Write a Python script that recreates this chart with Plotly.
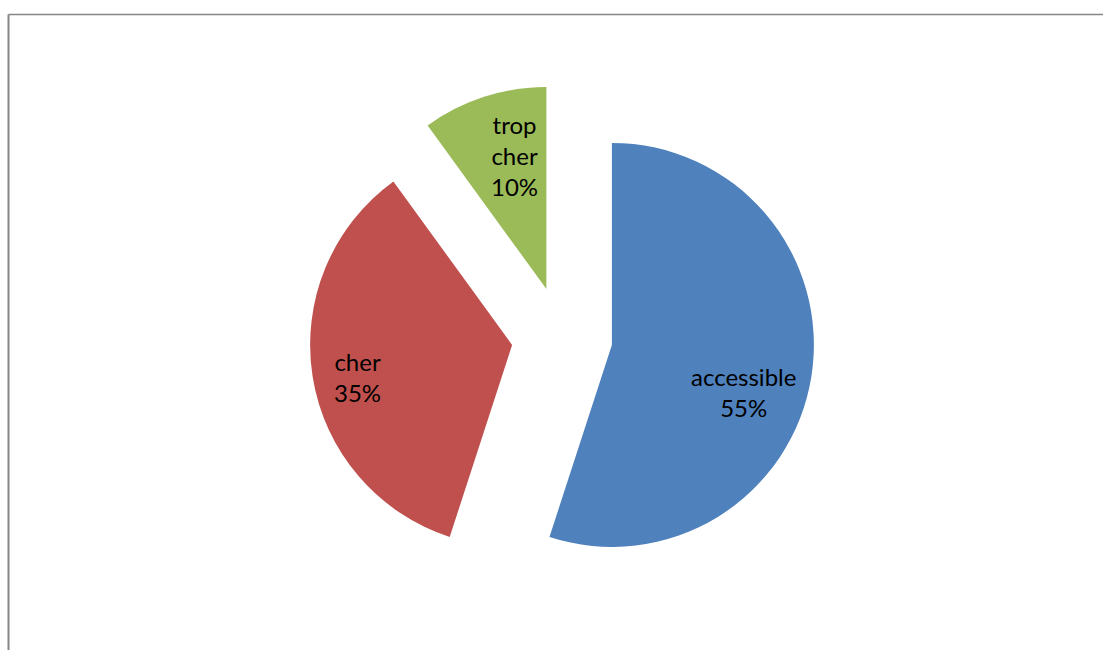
import math
import plotly.graph_objects as go

# ---- data ----
labels = ["accessible", "cher", "trop cher"]
values = [55, 35, 10]
colors = ["#4F81BD", "#C0504D", "#9BBB59"]

# ---- layout constants ----
W, H = 1103, 650
PULL = 0.25
CX, CY = 562, 337          # pie centre in pixels
R = 202                    # pie radius in pixels
BOX = 2 * R * (1 + PULL)   # domain box size that gives radius R

dom_x = [(CX - BOX / 2) / W, (CX + BOX / 2) / W]
dom_y = [1 - (CY + BOX / 2) / H, 1 - (CY - BOX / 2) / H]

fig = go.Figure(go.Pie(
    labels=labels,
    values=values,
    sort=False,
    direction="clockwise",
    rotation=0,
    pull=[PULL] * len(values),
    marker=dict(colors=colors, line=dict(width=0)),
    textinfo="none",
    hoverinfo="label+percent",
    domain=dict(x=dom_x, y=dom_y),
    showlegend=False,
))

# labels placed inside each slice, derived from the slice angles
label_frac = [0.69, 0.78, 0.68]
label_shift = [10.7, -2.7, 4.6]
total = sum(values)
start = 0.0
annotations = []
for i, v in enumerate(values):
    span = 360.0 * v / total
    mid = start + span / 2
    # apex of pulled slice
    ax = CX + PULL * R * math.sin(math.radians(mid))
    ay = CY - PULL * R * math.cos(math.radians(mid))
    ang = mid + label_shift[i]
    px = ax + label_frac[i] * R * math.sin(math.radians(ang))
    py = ay - label_frac[i] * R * math.cos(math.radians(ang))
    pct = round(100 * v / total)
    txt = labels[i].replace(" ", "<br>") + "<br>" + f"{pct}%"
    annotations.append(dict(
        x=px / W, y=1 - py / H, xref="paper", yref="paper",
        text=txt, showarrow=False, xanchor="center", yanchor="middle",
        font=dict(family="Lato, Carlito, Calibri, sans-serif", size=24, color="#000000"),
    ))
    start += span

border = "#868686"
shapes = [
    dict(type="line", xref="paper", yref="paper",
         x0=8.5 / W, y0=1 - 14.5 / H, x1=1, y1=1 - 14.5 / H,
         line=dict(color=border, width=1.5)),
    dict(type="line", xref="paper", yref="paper",
         x0=8.5 / W, y0=1 - 14.5 / H, x1=8.5 / W, y1=0,
         line=dict(color=border, width=2)),
]

fig.update_layout(
    width=W, height=H,
    margin=dict(l=0, r=0, t=0, b=0),
    paper_bgcolor="white",
    plot_bgcolor="white",
    annotations=annotations,
    shapes=shapes,
)

fig.write_html("out.html")
